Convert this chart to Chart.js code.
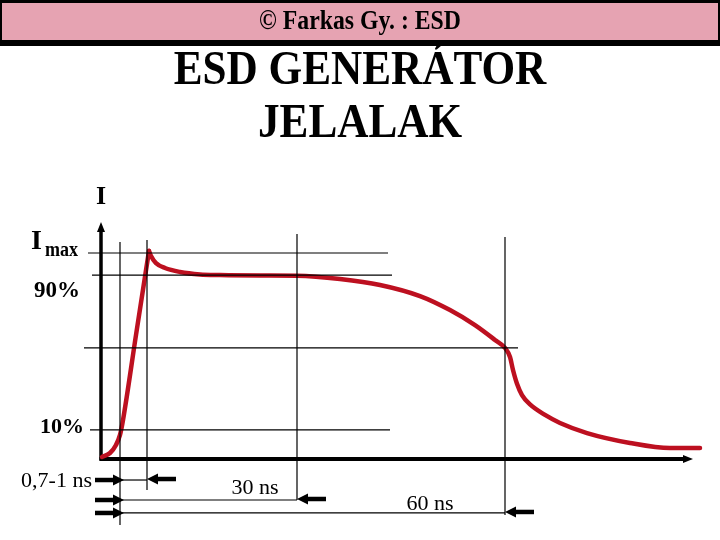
<!DOCTYPE html>
<html lang="hu">
<head>
<meta charset="utf-8">
<title>ESD generátor jelalak</title>
<script src="https://cdnjs.cloudflare.com/ajax/libs/Chart.js/4.4.0/chart.umd.min.js"></script>
<style>
  body { margin: 0; background: #fff; }
  #c { display: block; }
</style>
<script>

// pulse shape, time in arbitrary units, current in % of Imax
// rising edge up to the peak
var riseT = [1, 9, 15, 19, 22, 35, 48];
var riseI = [1, 2.9, 6.8, 11.7, 18.9, 60.2, 101];
// from the peak on
var fallT = [48, 50, 55, 64, 79, 99, 119, 160, 196, 239, 279, 319, 349, 374, 394, 404, 409, 412, 416, 421, 429, 444, 459, 486, 529, 569, 599];
var fallI = [101, 98.5, 95.1, 92.7, 90.8, 89.6, 89.3, 89.1, 89.0, 87.4, 84.5, 79.1, 72.3, 65.0, 57.8, 53.9, 49.5, 43.2, 36.5, 31, 26.5, 21.4, 17.5, 12.6, 7.8, 5.3, 5.3];

// horizontal reference levels
var levelNames = ['Imax', '90%', '', '10%'];
var levelValues = [100, 89.3, 53.9, 14.1];
var levelFrom = [-13, -9, -17, -11];
var levelTo = [287, 291, 417, 289];

// vertical time markers
var markTimes = [19, 46, 196, 404];
var markTop = [105.3, 106.3, 109.2, 107.8];
var markBottom = [-32, -15, -19.9, -27.2];

// dimension rows
var spanNames = ['0,7-1 ns', '30 ns', '60 ns'];
var spanStart = 19;
var spanEnd = [46, 196, 404];
var spanRow = [-10.2, -19.9, -26.2];

var SERIF = '"Liberation Serif", "Times New Roman", serif';

function textSq(ctx, txt, x, y, font, sx, align){
    ctx.save();
    ctx.translate(x, y);
    ctx.scale(sx, 1);
    ctx.font = font;
    ctx.textAlign = align || 'center';
    ctx.textBaseline = 'alphabetic';
    ctx.fillStyle = '#000';
    ctx.fillText(txt, 0, 0);
    ctx.restore();
}

function arrow(ctx, tipX, y, dir, len, head, half, w){
    // dir = 1 points right, -1 points left
    ctx.save();
    ctx.strokeStyle = '#000';
    ctx.fillStyle = '#000';
    ctx.lineWidth = w;
    ctx.beginPath();
    ctx.moveTo(tipX - dir*len, y);
    ctx.lineTo(tipX - dir*(head-1), y);
    ctx.stroke();
    ctx.beginPath();
    ctx.moveTo(tipX, y);
    ctx.lineTo(tipX - dir*head, y - half);
    ctx.lineTo(tipX - dir*head, y + half);
    ctx.closePath();
    ctx.fill();
    ctx.restore();
}

var slide = {
    id: 'slide',
    beforeDraw: function(chart){
        var ctx = chart.ctx;
        ctx.save();
        ctx.fillStyle = '#fff';
        ctx.fillRect(0, 0, 720, 540);
        // header bar
        ctx.fillStyle = '#000';
        ctx.fillRect(0, 0, 720, 46);
        ctx.fillStyle = '#e6a3b2';
        ctx.fillRect(2, 3, 716, 37);
        ctx.restore();
        textSq(ctx, '\u00a9 Farkas Gy. : ESD', 360, 29, 'bold 27px ' + SERIF, 0.88);
        textSq(ctx, 'ESD GENER\u00c1TOR', 360, 84, 'bold 48px ' + SERIF, 0.9);
        textSq(ctx, 'JELALAK', 360, 137, 'bold 48px ' + SERIF, 0.9);
    },
    beforeDatasetsDraw: function(chart){
        var ctx = chart.ctx;
        var xs = chart.scales.x, ys = chart.scales.y;
        var ox = xs.getPixelForValue(0), oy = ys.getPixelForValue(0);
        var top = ys.getPixelForValue(115);
        var right = xs.getPixelForValue(592);
        ctx.save();
        ctx.strokeStyle = '#000';
        ctx.fillStyle = '#000';
        ctx.lineWidth = 3.5;
        ctx.beginPath();
        ctx.moveTo(ox, oy + 1.5);
        ctx.lineTo(ox, top + 8);
        ctx.stroke();
        ctx.beginPath();
        ctx.moveTo(ox, top);
        ctx.lineTo(ox - 4, top + 10);
        ctx.lineTo(ox + 4, top + 10);
        ctx.closePath();
        ctx.fill();
        ctx.lineWidth = 4;
        ctx.beginPath();
        ctx.moveTo(ox - 1.5, oy);
        ctx.lineTo(right - 8, oy);
        ctx.stroke();
        ctx.beginPath();
        ctx.moveTo(right, oy);
        ctx.lineTo(right - 10, oy - 4);
        ctx.lineTo(right - 10, oy + 4);
        ctx.closePath();
        ctx.fill();
        ctx.restore();
    },
    afterDatasetsDraw: function(chart){
        var ctx = chart.ctx;
        var xs = chart.scales.x, ys = chart.scales.y;
        var x0 = xs.getPixelForValue(spanStart);

        // dimension arrows
        for (var i = 0; i < spanNames.length; i++){
            var y = ys.getPixelForValue(spanRow[i]);
            arrow(ctx, x0 + 4, y, 1, 29, 11, 5.5, 4.5);
            arrow(ctx, xs.getPixelForValue(spanEnd[i]), y - 1, -1, 29, 11, 5.5, 4.5);
        }

        // axis label
        textSq(ctx, 'I', xs.getPixelForValue(0), 204, 'bold 26px ' + SERIF, 1);

        // level labels
        var yI = ys.getPixelForValue(levelValues[0]);
        textSq(ctx, 'I', 31, yI - 4, 'bold 28px ' + SERIF, 1, 'left');
        textSq(ctx, 'max', 78, yI + 3, 'bold 20px ' + SERIF, 0.9, 'right');
        textSq(ctx, levelNames[1], 80, ys.getPixelForValue(levelValues[1]) + 22, 'bold 23px ' + SERIF, 1, 'right');
        textSq(ctx, levelNames[3], 84, ys.getPixelForValue(levelValues[3]) + 3, 'bold 22px ' + SERIF, 1, 'right');

        // span labels
        textSq(ctx, spanNames[0], 92, ys.getPixelForValue(spanRow[0]) + 7, '22px ' + SERIF, 1, 'right');
        textSq(ctx, spanNames[1], xs.getPixelForValue(154), ys.getPixelForValue(spanRow[1]) - 6, '22px ' + SERIF, 1);
        textSq(ctx, spanNames[2], xs.getPixelForValue(329), ys.getPixelForValue(spanRow[2]) - 3, '22px ' + SERIF, 1);
    }
};

function seg(x1, y1, x2, y2){
    return {
        data: [{x: x1, y: y1}, {x: x2, y: y2}],
        showLine: true,
        borderColor: '#000',
        borderWidth: 1.2,
        pointRadius: 0,
        clip: false
    };
}

function curve(ts, vs){
    var pts = [];
    for (var i = 0; i < ts.length; i++){ pts.push({x: ts[i], y: vs[i]}); }
    return {
        data: pts,
        showLine: true,
        borderColor: '#bd1020',
        borderWidth: 4.5,
        borderCapStyle: 'round',
        borderJoinStyle: 'round',
        pointRadius: 0,
        cubicInterpolationMode: 'monotone',
        clip: false
    };
}

function go(){
    var datasets = [];
    for (var i = 0; i < levelValues.length; i++){
        datasets.push(seg(levelFrom[i], levelValues[i], levelTo[i], levelValues[i]));
    }
    for (var i = 0; i < markTimes.length; i++){
        datasets.push(seg(markTimes[i], markTop[i], markTimes[i], markBottom[i]));
    }
    for (var i = 0; i < spanEnd.length; i++){
        datasets.push(seg(spanStart, spanRow[i], spanEnd[i], spanRow[i]));
    }
    datasets.push(curve(riseT, riseI));
    datasets.push(curve(fallT, fallI));

    new Chart(document.getElementById('c'), {
        type: 'scatter',
        data: { datasets: datasets },
        options: {
            responsive: false,
            animation: false,
            layout: { padding: { left: 81, right: 19, top: 215.92, bottom: 2.72 } },
            scales: {
                x: { type: 'linear', min: -20, max: 600, display: false },
                y: { type: 'linear', min: -38, max: 118, display: false }
            },
            plugins: { legend: { display: false }, tooltip: { enabled: false } }
        },
        plugins: [slide]
    });
}

</script>
</head>
<body onload="go();">
<canvas id="c" width="720" height="540"></canvas>
</body>
</html>
